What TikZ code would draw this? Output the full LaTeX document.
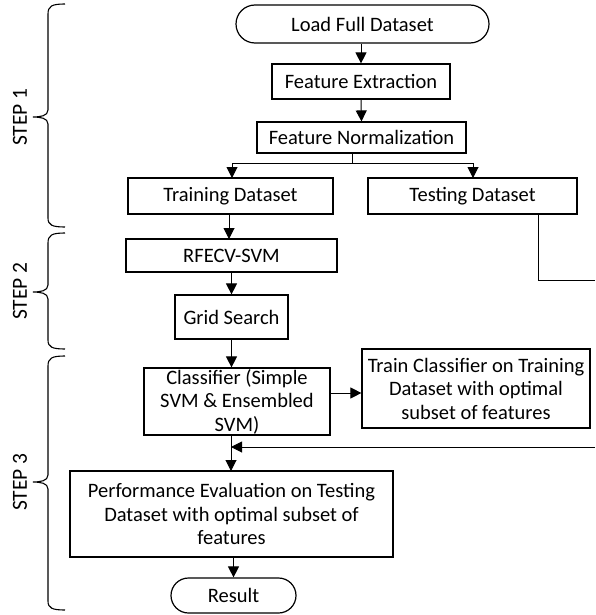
\documentclass[tikz,border=0pt]{standalone}
\usepackage{fontspec}
\setmainfont{Carlito}
\usetikzlibrary{shapes.misc,arrows.meta}
\begin{document}
\begin{tikzpicture}[x=1pt,y=-1pt,
  box/.style={draw=black,line width=1.2pt,rectangle,inner sep=0pt,align=center,font=\fontsize{20.5}{23.5}\selectfont},
  term/.style={box,rounded rectangle},
  arr/.style={line width=1pt,-{Triangle[length=11pt,width=11pt]}},
  ln/.style={line width=1pt},
  brace/.style={line width=1.1pt},
  steplabel/.style={rotate=90,font=\fontsize{21.5}{24}\selectfont,inner sep=0pt}]
\useasboundingbox (0,0) rectangle (595,615);
\node[term,minimum width=253pt,minimum height=38pt] (load) at (362.5,24) {Load Full Dataset};
\node[box,minimum width=178pt,minimum height=35pt] (fe) at (361,81.5) {Feature Extraction};
\node[box,minimum width=209pt,minimum height=31pt] (fn) at (361.5,137.5) {Feature Normalization};
\node[box,minimum width=205pt,minimum height=36pt] (train) at (230.5,196) {Training Dataset};
\node[box,minimum width=209pt,minimum height=36pt] (test) at (472.5,196) {Testing Dataset};
\node[box,minimum width=211pt,minimum height=33pt] (rfe) at (231.5,255.5) {RFECV-SVM};
\node[box,minimum width=113pt,minimum height=44pt] (grid) at (231.5,317) {Grid Search};
\node[box,minimum width=186pt,minimum height=67pt] (clf) at (237,401.5) {Classifier (Simple\\SVM \& Ensembled\\SVM)};
\node[box,minimum width=228pt,minimum height=79pt] (tc) at (476,388.5) {Train Classifier on Training\\Dataset with optimal\\subset of features};
\node[box,minimum width=323pt,minimum height=86pt] (perf) at (231.5,514) {Performance Evaluation on Testing\\Dataset with optimal subset of\\features};
\node[term,minimum width=125pt,minimum height=35pt] (res) at (233.5,595.5) {Result};

\coordinate (sp) at (352,163);
\coordinate (tl) at (538,280);
\coordinate (tr) at (595,280);
\coordinate (rr) at (595,447);
\coordinate (rj) at (231,447);

\draw[arr] (load.south -| fe.north) -- (fe.north);
\draw[arr] (fe.south) -- (fn.north);
\draw[ln] (fn.south -| sp) -- (sp);
\draw[arr] (sp) -- (232,163) -- (232,178);
\draw[arr] (sp) -- (473,163) -- (473,178);
\draw[arr] (229,214) -- (229,239);
\draw[arr] (rfe.south -| grid.north) -- (grid.north);
\draw[arr] (grid.south) -- (grid.south |- clf.north);
\draw[arr] (clf.east |- 0,393) -- (tc.west |- 0,393);
\draw[ln] (test.south -| tl) -- (tl) -- (tr);
\draw[arr] (rr) -- (rj);
\draw[arr] (231,435) -- (231,471);
\draw[arr] (perf.south -| res.north) -- (res.north);

% braces
\draw[brace] (65,4) .. controls (52,4) and (48,6) .. (48,14) -- (48,110) .. controls (48,116) and (40,117) .. (33,117)
  .. controls (40,117) and (48,118) .. (48,124) -- (48,218) .. controls (48,225) and (52,227) .. (65,227);
\draw[brace] (65,233) .. controls (52,233) and (48,235) .. (48,243) -- (48,285) .. controls (48,291) and (40,292) .. (33,292)
  .. controls (40,292) and (48,293) .. (48,299) -- (48,340) .. controls (48,347) and (52,349) .. (65,349);
\draw[brace] (65,356) .. controls (52,356) and (48,358) .. (48,366) -- (48,475) .. controls (48,481) and (40,482) .. (33,482)
  .. controls (40,482) and (48,483) .. (48,489) -- (48,601) .. controls (48,608) and (52,610) .. (65,610);
\node[steplabel] (s1) at (20,117) {STEP 1};
\node[steplabel] (s2) at (20,291) {STEP 2};
\node[steplabel] (s3) at (20,482) {STEP 3};
\end{tikzpicture}
\end{document}
